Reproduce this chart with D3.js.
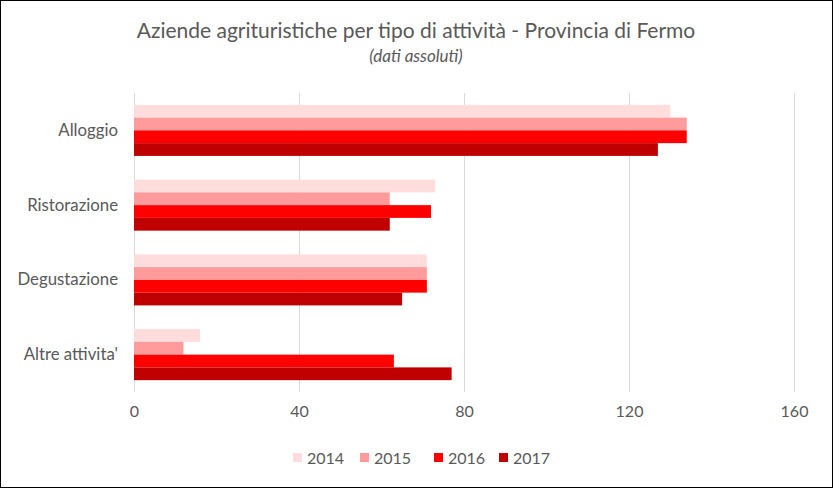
<!DOCTYPE html>
<html><head><meta charset="utf-8">
<script src="https://cdn.jsdelivr.net/npm/d3@7"></script>
<style>
html,body{margin:0;padding:0;background:#fff;}
svg{display:block;font-family:Lato,"Open Sans",sans-serif;}
</style></head>
<body>
<svg id="chart" width="833" height="488"></svg>
<script>
const categories = ["Alloggio", "Ristorazione", "Degustazione", "Altre attivita'"];
const years = ["2014", "2015", "2016", "2017"];
const values2014 = [130, 73, 71, 16];
const values2015 = [134, 62, 71, 12];
const values2016 = [134, 72, 71, 63];
const values2017 = [127, 62, 65, 77];
const xTicks = [0, 40, 80, 120, 160];
const colors = ["#FFDDDD", "#FF9B9B", "#FF0000", "#C00000"];
const title = "Aziende agrituristiche per tipo di attività - Provincia di Fermo";
const subtitle = "(dati assoluti)";

const series = [values2014, values2015, values2016, values2017];
const W = 833, H = 488;
const svg = d3.select("#chart");
const textColor = "#595959";

svg.append("rect").attr("x", 0.5).attr("y", 0.5).attr("width", W - 1).attr("height", H - 1)
  .attr("fill", "#fff").attr("stroke", "#000").attr("stroke-width", 1);

const m = {left: 134, right: 794, top: 93, bottom: 392};
const x = d3.scaleLinear().domain([0, 160]).range([m.left, m.right]);
const y = d3.scaleBand().domain(categories).range([m.top, m.bottom]).paddingInner(0.317).paddingOuter(0.1585);
const yInner = d3.scaleBand().domain(years).range([0, y.bandwidth()]);

// gridlines
svg.append("g").selectAll("line").data(xTicks).join("line")
  .attr("x1", d => Math.round(x(d)) + 0.5).attr("x2", d => Math.round(x(d)) + 0.5)
  .attr("y1", m.top).attr("y2", m.bottom)
  .attr("stroke", "#D9D9D9").attr("stroke-width", 1);

// bars
const groups = svg.append("g").selectAll("g").data(categories).join("g")
  .attr("transform", c => `translate(0,${y(c)})`);
groups.selectAll("rect").data((c, i) => years.map((yr, j) => ({yr, v: series[j][i], j})))
  .join("rect")
  .attr("x", x(0))
  .attr("y", d => yInner(d.yr))
  .attr("width", d => x(d.v) - x(0))
  .attr("height", yInner.bandwidth())
  .attr("fill", d => colors[d.j]);

// x axis labels
const xAxis = d3.axisBottom(x).tickValues(xTicks).tickSize(0).tickPadding(0);
const gx = svg.append("g").attr("transform", `translate(0,${m.bottom + 14})`).call(xAxis);
gx.select(".domain").remove();
gx.selectAll("text").attr("font-size", 16).attr("fill", textColor).attr("font-family", "Lato, sans-serif");

// y axis labels
const yAxis = d3.axisLeft(y).tickSize(0).tickPadding(16);
const gy = svg.append("g").attr("transform", `translate(${m.left},0)`).call(yAxis);
gy.select(".domain").remove();
gy.selectAll("text").attr("font-size", 16.8).attr("fill", textColor).attr("font-family", "Lato, sans-serif");

// title
svg.append("text").attr("x", 416).attr("y", 38).attr("text-anchor", "middle")
  .attr("font-size", 21).attr("fill", textColor).text(title);
svg.append("text").attr("x", 416).attr("y", 62).attr("text-anchor", "middle")
  .attr("font-size", 17).attr("font-style", "italic").attr("fill", textColor).text(subtitle);

// legend
const legendX = [293, 360, 434, 499];
const lg = svg.append("g").selectAll("g").data(years).join("g")
  .attr("transform", (d, i) => `translate(${legendX[i]},453)`);
lg.append("rect").attr("width", 9).attr("height", 9).attr("fill", (d, i) => colors[i]);
lg.append("text").attr("x", 14).attr("y", 10.5).attr("font-size", 16).attr("fill", textColor).text(d => d);
</script>
</body></html>
